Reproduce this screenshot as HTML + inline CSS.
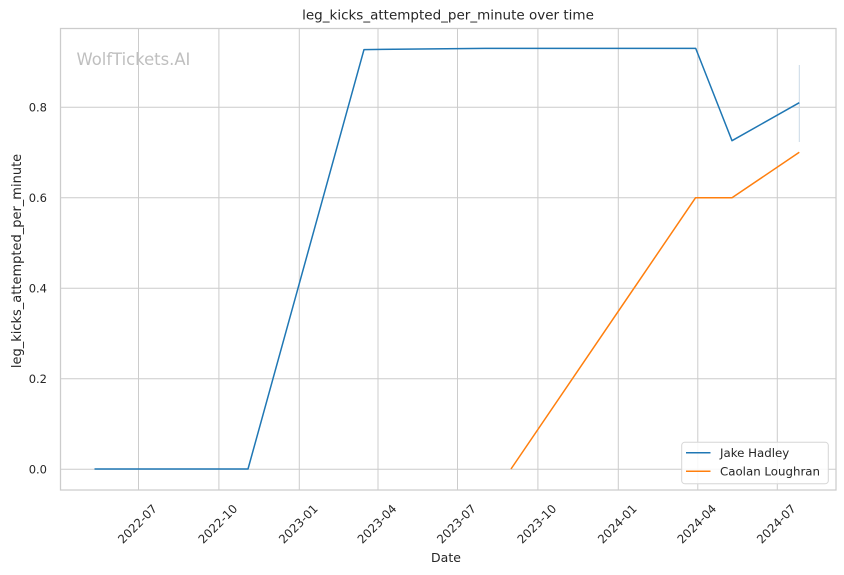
<!DOCTYPE html>
<html><head><meta charset="utf-8"><style>
html,body{margin:0;padding:0;background:#fff;}
svg{display:block;font-family:"DejaVu Sans","Liberation Sans",sans-serif;}
</style></head><body>
<svg width="844" height="575" viewBox="0 0 844 575" xmlns="http://www.w3.org/2000/svg">
<rect x="0" y="0" width="844" height="575" fill="#fff"/>
<!-- grid -->
<g stroke="#cccccc" stroke-width="1" fill="none">
<line x1="60" y1="469.3" x2="836" y2="469.3"/>
<line x1="60" y1="378.8" x2="836" y2="378.8"/>
<line x1="60" y1="288.3" x2="836" y2="288.3"/>
<line x1="60" y1="197.8" x2="836" y2="197.8"/>
<line x1="60" y1="107.3" x2="836" y2="107.3"/>
<line x1="138.5" y1="28" x2="138.5" y2="490"/>
<line x1="218.9" y1="28" x2="218.9" y2="490"/>
<line x1="299.3" y1="28" x2="299.3" y2="490"/>
<line x1="378.0" y1="28" x2="378.0" y2="490"/>
<line x1="457.5" y1="28" x2="457.5" y2="490"/>
<line x1="537.9" y1="28" x2="537.9" y2="490"/>
<line x1="618.3" y1="28" x2="618.3" y2="490"/>
<line x1="697.8" y1="28" x2="697.8" y2="490"/>
<line x1="777.3" y1="28" x2="777.3" y2="490"/>
</g>
<!-- spines -->
<rect x="60.5" y="28.5" width="775.5" height="461.5" fill="none" stroke="#cccccc" stroke-width="1.25"/>
<!-- watermark -->
<text x="76.5" y="65" font-size="16.4" fill="#bfbfbf">WolfTickets.AI</text>
<!-- CI band line -->
<line x1="799.3" y1="65" x2="799.3" y2="142" stroke="#c9d9e6" stroke-width="1"/>
<!-- series -->
<polyline points="94.5,469 248,469 364,49.6 485,48.4 695.7,48.4 732,140.7 799.3,102.7" fill="none" stroke="#1f77b4" stroke-width="1.5" stroke-linejoin="round"/>
<polyline points="511,469 695.5,197.8 732,197.8 799.3,152.3" fill="none" stroke="#ff7f0e" stroke-width="1.5" stroke-linejoin="round"/>
<!-- y tick labels -->
<g font-size="11.5" fill="#262626" text-anchor="end">
<text x="47" y="473.3">0.0</text>
<text x="47" y="382.8">0.2</text>
<text x="47" y="292.3">0.4</text>
<text x="47" y="201.8">0.6</text>
<text x="47" y="111.3">0.8</text>
</g>
<!-- x tick labels -->
<g font-size="11.8" fill="#262626" text-anchor="middle">
<text transform="translate(137.5,524) rotate(-45)" dy="4">2022-07</text>
<text transform="translate(217.9,524) rotate(-45)" dy="4">2022-10</text>
<text transform="translate(298.3,524) rotate(-45)" dy="4">2023-01</text>
<text transform="translate(377.0,524) rotate(-45)" dy="4">2023-04</text>
<text transform="translate(456.5,524) rotate(-45)" dy="4">2023-07</text>
<text transform="translate(536.9,524) rotate(-45)" dy="4">2023-10</text>
<text transform="translate(617.3,524) rotate(-45)" dy="4">2024-01</text>
<text transform="translate(696.8,524) rotate(-45)" dy="4">2024-04</text>
<text transform="translate(776.3,524) rotate(-45)" dy="4">2024-07</text>
</g>
<!-- axis labels -->
<text x="446" y="562" font-size="12.5" fill="#262626" text-anchor="middle">Date</text>
<text transform="translate(21,261) rotate(-90)" font-size="13" fill="#262626" text-anchor="middle">leg_kicks_attempted_per_minute</text>
<!-- title -->
<text x="448" y="19.5" font-size="13.5" fill="#262626" text-anchor="middle">leg_kicks_attempted_per_minute over time</text>
<!-- legend -->
<rect x="681.7" y="442.3" width="146.6" height="41.4" rx="3" ry="3" fill="#ffffff" fill-opacity="0.85" stroke="#d6d6d6" stroke-width="1"/>
<line x1="686" y1="452.7" x2="710.5" y2="452.7" stroke="#1f77b4" stroke-width="1.5"/>
<line x1="686" y1="471.3" x2="710.5" y2="471.3" stroke="#ff7f0e" stroke-width="1.5"/>
<g font-size="11.8" fill="#262626">
<text x="720" y="456.8">Jake Hadley</text>
<text x="720" y="475.4">Caolan Loughran</text>
</g>
</svg>
</body></html>
